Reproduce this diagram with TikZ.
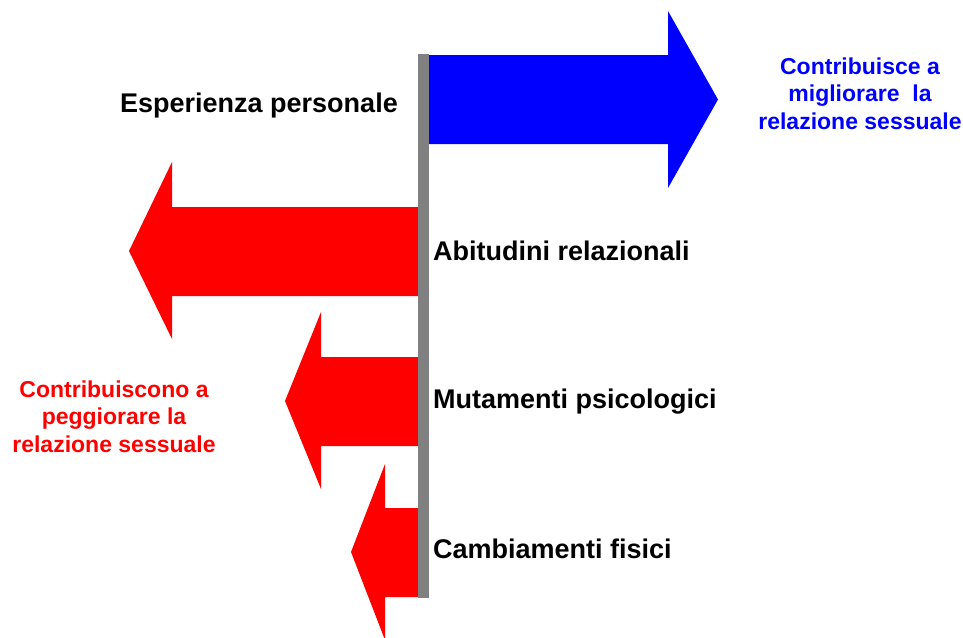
\documentclass[tikz,border=0pt]{standalone}
\usepackage{fontspec}
\setmainfont{Liberation Sans}
\definecolor{pureblue}{RGB}{0,0,255}
\definecolor{purered}{RGB}{255,0,0}
\definecolor{bargray}{RGB}{128,128,128}
\begin{document}
\begin{tikzpicture}[x=1pt,y=-1pt,
  factor/.style={inner sep=0pt,font=\fontsize{27}{32}\selectfont\bfseries},
  effect/.style={inner sep=0pt,align=center,font=\fontsize{23}{27.5}\selectfont\bfseries}]
\useasboundingbox (0,0) rectangle (963,637);

\fill[pureblue] (429,55) -- (668,55) -- (668,11) -- (718,99.5) -- (668,188) -- (668,144) -- (429,144) -- cycle;

\fill[purered] (418,207) -- (172,207) -- (172,162) -- (129,251) -- (172,339) -- (172,296) -- (418,296) -- cycle;
\fill[purered] (418,357) -- (321,357) -- (321,312) -- (285,401) -- (321,489) -- (321,446) -- (418,446) -- cycle;
\fill[purered] (418,508) -- (385,508) -- (385,464) -- (351,552) -- (385,640) -- (385,597) -- (418,597) -- cycle;

\fill[bargray] (418,54) rectangle (429,598);

\node[factor,anchor=base east] (esperienza) at (398,112) {Esperienza personale};
\node[factor,anchor=base west] (abitudini) at (433,260) {Abitudini relazionali};
\node[factor,anchor=base west] (mutamenti) at (433,408) {Mutamenti psicologici};
\node[factor,anchor=base west] (cambiamenti) at (433,558) {Cambiamenti fisici};

\node[effect,text=pureblue,anchor=north] (migliora) at (860,57.5) {Contribuisce a\\migliorare~ la\\relazione sessuale};
\node[effect,text=purered,anchor=north] (peggiora) at (114,380.5) {Contribuiscono a\\peggiorare la\\relazione sessuale};
\end{tikzpicture}
\end{document}
